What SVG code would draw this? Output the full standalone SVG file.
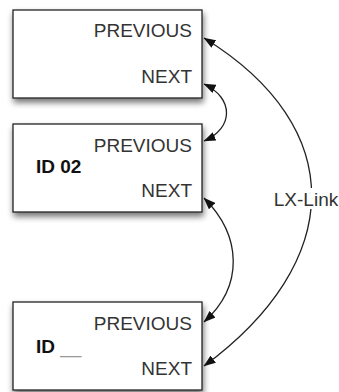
<svg xmlns="http://www.w3.org/2000/svg" width="339" height="392" viewBox="0 0 339 392">
  <style>
    .box { fill: #ffffff; stroke: #222222; stroke-width: 1.3; filter: url(#shadow); }
    .slot { font-family: "Liberation Sans", Arial, sans-serif; font-size: 19px; fill: #333333; text-anchor: end; }
    .id { font-family: "Liberation Sans", Arial, sans-serif; font-size: 19px; font-weight: bold; fill: #111111; }
    .blank { font-weight: normal; fill: #999999; }
    .link { fill: none; stroke: #222222; stroke-width: 1.3; marker-start: url(#arrow); marker-end: url(#arrow); }
    .label { font-family: "Liberation Sans", Arial, sans-serif; font-size: 19px; fill: #333333; text-anchor: middle; }
  </style>
  <defs>
    <filter id="shadow" x="-10%" y="-10%" width="125%" height="135%">
      <feGaussianBlur in="SourceAlpha" stdDeviation="3"/>
      <feOffset dx="1" dy="4" result="blur"/>
      <feComponentTransfer><feFuncA type="linear" slope="0.55"/></feComponentTransfer>
      <feMerge><feMergeNode/><feMergeNode in="SourceGraphic"/></feMerge>
    </filter>
    <marker id="arrow" viewBox="0 0 12 9" refX="11.5" refY="4.5" markerWidth="12" markerHeight="9" markerUnits="userSpaceOnUse" orient="auto-start-reverse">
      <path d="M0,0 L12,4.5 L0,9 z" fill="#111111"/>
    </marker>
  </defs>

  <rect width="339" height="392" fill="#ffffff"/>

  <!-- first record -->
  <g id="record-1">
    <rect class="box" x="13" y="10" width="189" height="88"/>
    <text class="slot" x="192" y="37">PREVIOUS</text>
    <text class="slot" x="192" y="83">NEXT</text>
  </g>

  <!-- record ID 02 -->
  <g id="record-2">
    <rect class="box" x="13" y="124" width="189" height="88"/>
    <text class="slot" x="192" y="152">PREVIOUS</text>
    <text class="id" x="36" y="173">ID 02</text>
    <text class="slot" x="192" y="197">NEXT</text>
  </g>

  <!-- last record, id not yet filled in -->
  <g id="record-3">
    <rect class="box" x="13" y="302" width="189" height="88"/>
    <text class="slot" x="192" y="330">PREVIOUS</text>
    <text class="id" x="36" y="353">ID <tspan class="blank">__</tspan></text>
    <text class="slot" x="192" y="375">NEXT</text>
  </g>

  <!-- links between records -->
  <g id="connectors">
    <path class="link" d="M204,84 C234,98 234,128 204,141"/>
    <path class="link" d="M204,198 C242,236 244,286 204,322"/>
    <path class="link" d="M204,38 C350,128 345,262 204,366"/>
    <rect x="272" y="188" width="66" height="21" fill="#ffffff"/>
    <text class="label" x="306" y="206">LX-Link</text>
  </g>
</svg>
